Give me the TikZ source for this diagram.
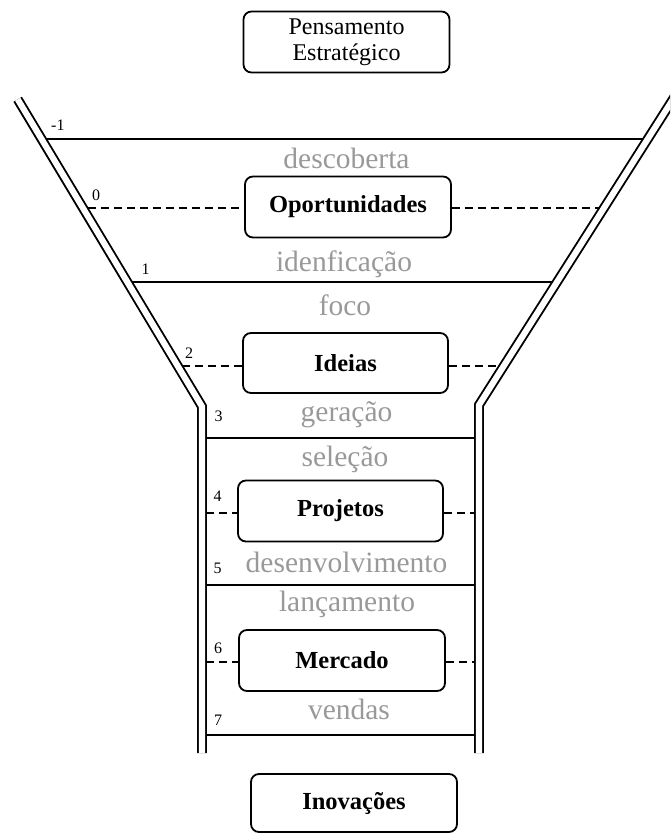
\documentclass[tikz,border=0pt]{standalone}
\usepackage{fontspec}
\setmainfont{Liberation Serif}
\definecolor{stagegray}{RGB}{153,153,153}
\begin{document}
\begin{tikzpicture}[x=1pt,y=-1pt,
  box/.style={draw, line width=1.8pt, rounded corners=8pt, minimum width=206pt,
    minimum height=61pt, inner sep=0pt, align=center,
    font=\fontsize{24.5}{26}\selectfont\bfseries},
  stage/.style={text=stagegray, font=\fontsize{29.5}{30}\selectfont,
    anchor=base, inner sep=0pt},
  levelnum/.style={font=\fontsize{16}{16}\selectfont, anchor=base west, inner sep=0pt},
  level/.style={line width=1.9pt},
  linkdash/.style={line width=1.9pt, dash pattern=on 8pt off 5pt},
  funnel/.style={line width=1.9pt, double distance=6.1pt, double=white}]
\useasboundingbox (0,0) rectangle (670,833);
\clip (0,0) rectangle (670,833);

% funnel walls (double lines)
\coordinate (fl0) at (17.7,99.3);
\coordinate (fl1) at (202,406.5);
\coordinate (fl2) at (202,753);
\coordinate (fr0) at (682,85);
\coordinate (fr1) at (479,405);
\coordinate (fr2) at (479,753);
\draw[funnel] (fl0) -- (fl1) -- (fl2);
\draw[funnel] (fr0) -- (fr1) -- (fr2);

% boxes
\node[box, font=\fontsize{24}{26}\selectfont] (pens) at (346.5,42) {Pensamento\\Estratégico};
\node[box] (oport) at (348,207) {Oportunidades};
\node[box, minimum width=205pt, minimum height=60pt] (ideias) at (345.5,363) {Ideias};
\node[box, minimum width=205pt] (proj) at (340.5,511) {Projetos};
\node[box] (merc) at (342,660.5) {Mercado};
\node[box, minimum height=58pt] (inov) at (354,803) {Inovações};

% level end points on the inner walls
\coordinate (a1) at (46.3,139);   \coordinate (b1) at (643.2,139);
\coordinate (a0) at (87.8,208);   \coordinate (b0) at (599.7,208);
\coordinate (a2) at (132.2,282);  \coordinate (b2) at (553.1,282);
\coordinate (a3) at (182,366);    \coordinate (b3) at (498,366);
\coordinate (a4) at (206,438);    \coordinate (b4) at (475,438);
\coordinate (a5) at (206,513);    \coordinate (b5) at (475,513);
\coordinate (a6) at (206,585);    \coordinate (b6) at (475,585);
\coordinate (a7) at (206,662);    \coordinate (b7) at (475,662);
\coordinate (a8) at (206,735);    \coordinate (b8) at (475,735);

% solid levels
\draw[level] (a1) -- (b1);
\draw[level] (a2) -- (b2);
\draw[level] (a4) -- (b4);
\draw[level] (a6) -- (b6);
\draw[level] (a8) -- (b8);

% dashed links from walls to boxes
\draw[linkdash] (a0) -- (oport.west |- a0);
\draw[linkdash] (oport.east |- b0) -- (b0);
\draw[linkdash] (a3) -- (ideias.west |- a3);
\draw[linkdash] (ideias.east |- b3) -- (b3);
\draw[linkdash] (a5) -- (proj.west |- a5);
\draw[linkdash] (proj.east |- b5) -- (b5);
\draw[linkdash] (a7) -- (merc.west |- a7);
\draw[linkdash] (merc.east |- b7) -- (b7);

% level numbers
\node[levelnum] (n1) at (51,130) {-1};
\node[levelnum] (n0) at (92,200.7) {0};
\node[levelnum] (n2) at (141.5,274) {1};
\node[levelnum] (n3) at (185,358) {2};
\node[levelnum] (n4) at (214.5,421.7) {3};
\node[levelnum] (n5) at (213.5,501.7) {4};
\node[levelnum] (n6) at (213.5,573.5) {5};
\node[levelnum] (n7) at (214,653) {6};
\node[levelnum] (n8) at (214,725) {7};

% stage labels
\node[stage] (s1) at (346.5,168) {descoberta};
\node[stage] (s2) at (344,271) {idenficação};
\node[stage] (s3) at (345,315) {foco};
\node[stage] (s4) at (346.5,421.7) {geração};
\node[stage] (s5) at (345,466.7) {seleção};
\node[stage] (s6) at (346.5,572.3) {desenvolvimento};
\node[stage] (s7) at (347,611.7) {lançamento};
\node[stage] (s8) at (349,719) {vendas};
\end{tikzpicture}
\end{document}
